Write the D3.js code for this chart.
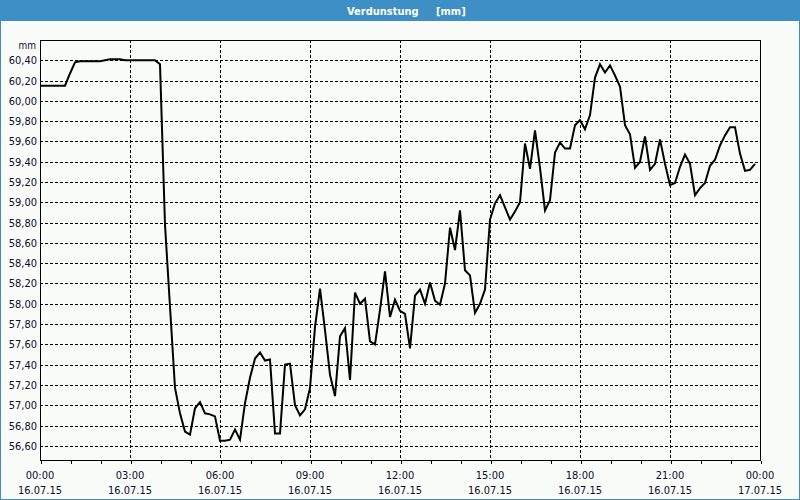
<!DOCTYPE html>
<html>
<head>
<meta charset="utf-8">
<script src="https://cdn.jsdelivr.net/npm/d3@7"></script>
<style>
  html, body { margin: 0; padding: 0; background: #fafcfa; }
  svg { display: block; }
  text { font-family: "DejaVu Sans Condensed", "DejaVu Sans", sans-serif; }
</style>
</head>
<body>
<svg id="chart" width="800" height="500"></svg>
<script>
// ---- data ----
const titleText = "Verdunstung";
const unitText = "[mm]";
const yUnitLabel = "mm";
const startTime = new Date(2015, 6, 16, 0, 0);
const endTime = new Date(2015, 6, 17, 0, 0);
const stepMinutes = 10;
const yTicks = [56.60, 56.80, 57.00, 57.20, 57.40, 57.60, 57.80, 58.00, 58.20, 58.40,
                58.60, 58.80, 59.00, 59.20, 59.40, 59.60, 59.80, 60.00, 60.20, 60.40];
const values = [
  60.15,60.15,60.15,60.15,60.15,60.15,60.27,60.38,60.39,60.39,60.39,60.39,
  60.39,60.40,60.41,60.41,60.41,60.40,60.40,60.40,60.40,60.40,60.40,60.40,
  60.36,58.78,57.97,57.17,56.92,56.74,56.71,56.97,57.03,56.92,56.91,56.89,
  56.65,56.65,56.66,56.76,56.66,57.02,57.27,57.46,57.52,57.44,57.45,56.72,
  56.72,57.40,57.41,57.00,56.90,56.96,57.17,57.77,58.15,57.74,57.30,57.09,
  57.68,57.76,57.25,58.11,58.00,58.05,57.63,57.60,57.94,58.32,57.87,58.04,
  57.93,57.90,57.56,58.08,58.14,58.00,58.21,58.03,57.99,58.20,58.75,58.53,
  58.92,58.33,58.28,57.91,58.00,58.14,58.83,58.99,59.07,58.95,58.83,58.91,
  59.00,59.58,59.33,59.71,59.34,58.92,59.02,59.49,59.59,59.53,59.53,59.76,
  59.81,59.72,59.86,60.23,60.36,60.28,60.35,60.25,60.14,59.76,59.67,59.34,
  59.40,59.65,59.32,59.38,59.62,59.38,59.17,59.19,59.35,59.47,59.38,59.07,
  59.14,59.19,59.36,59.42,59.56,59.66,59.74,59.74,59.48,59.31,59.32,59.38
];

// ---- layout ----
const W = 800, H = 500;
const pL = 40, pR = 760, pT = 40, pB = 460;
const blue = "#3d8fc6";
const textCol = "#0c0c30";

const svg = d3.select("#chart");
const data = values.map((v, i) => ({ t: d3.timeMinute.offset(startTime, i * stepMinutes), v }));

const x = d3.scaleTime().domain([startTime, endTime]).range([pL, pR]);
const y = d3.scaleLinear().domain([56.46, 60.60]).range([pB, pT]);

// background + frame
svg.append("rect").attr("x", 0).attr("y", 0).attr("width", W).attr("height", H).attr("fill", "#fafcfa");
svg.append("rect").attr("x", 0.5).attr("y", 0.5).attr("width", W - 1).attr("height", H - 1)
  .attr("fill", "none").attr("stroke", blue).attr("stroke-width", 1);
svg.append("rect").attr("x", 0).attr("y", 0).attr("width", W).attr("height", 21).attr("fill", blue);
svg.append("text").attr("x", 347).attr("y", 15).attr("fill", "#fff")
  .attr("font-size", 11).attr("font-weight", "bold").text(titleText);
svg.append("text").attr("x", 436).attr("y", 15).attr("fill", "#fff")
  .attr("font-size", 11).attr("font-weight", "bold").text(unitText);

// horizontal grid
const g = svg.append("g");
g.selectAll("line.hg").data(yTicks).enter().append("line")
  .attr("x1", pL).attr("x2", pR)
  .attr("y1", d => Math.round(y(d)) + 0.5).attr("y2", d => Math.round(y(d)) + 0.5)
  .attr("stroke", "#000").attr("stroke-width", 1).attr("stroke-dasharray", "3,2")
  .attr("shape-rendering", "crispEdges");

// vertical grid every 3 hours (inner)
const majorTicks = x.ticks(d3.timeHour.every(3));
g.selectAll("line.vg").data(majorTicks.filter(d => +d > +startTime && +d < +endTime)).enter().append("line")
  .attr("y1", pT).attr("y2", pB)
  .attr("x1", d => Math.round(x(d)) + 0.5).attr("x2", d => Math.round(x(d)) + 0.5)
  .attr("stroke", "#000").attr("stroke-width", 1).attr("stroke-dasharray", "3,2")
  .attr("shape-rendering", "crispEdges");

// plot border
svg.append("rect").attr("x", pL + 0.5).attr("y", pT + 0.5)
  .attr("width", pR - pL).attr("height", pB - pT)
  .attr("fill", "none").attr("stroke", "#000").attr("stroke-width", 1)
  .attr("shape-rendering", "crispEdges");

// x axis (minor hourly ticks + labels every 3h)
const xAxis = d3.axisBottom(x).ticks(d3.timeHour.every(1)).tickSize(3).tickFormat("");
const xg = svg.append("g").attr("transform", `translate(0.5,${pB + 0.5})`).call(xAxis);
xg.select(".domain").remove();
xg.selectAll("line").attr("stroke", "#000").attr("shape-rendering", "crispEdges");

const fmtT = d3.timeFormat("%H:%M"), fmtD = d3.timeFormat("%d.%m.%y");
const lab = svg.append("g");
lab.selectAll("text.t").data(majorTicks).enter().append("text")
  .attr("x", d => x(d)).attr("y", 479).attr("text-anchor", "middle")
  .attr("font-size", 11).attr("fill", textCol).text(fmtT);
lab.selectAll("text.d").data(majorTicks).enter().append("text")
  .attr("x", d => x(d)).attr("y", 494).attr("text-anchor", "middle")
  .attr("font-size", 11).attr("fill", textCol).text(fmtD);

// y labels
const fmtY = d => d3.format(".2f")(d).replace(".", ",");
lab.selectAll("text.y").data(yTicks).enter().append("text")
  .attr("x", 37).attr("y", d => y(d) + 4).attr("text-anchor", "end")
  .attr("font-size", 11).attr("fill", textCol).text(fmtY);
svg.append("text").attr("x", 36).attr("y", 49).attr("text-anchor", "end")
  .attr("font-size", 10).attr("fill", textCol).text(yUnitLabel);

// line
const line = d3.line().x(d => x(d.t)).y(d => y(d.v));
svg.append("path").datum(data).attr("d", line)
  .attr("fill", "none").attr("stroke", "#000").attr("stroke-width", 2)
  .attr("stroke-linejoin", "miter");
</script>
</body>
</html>
